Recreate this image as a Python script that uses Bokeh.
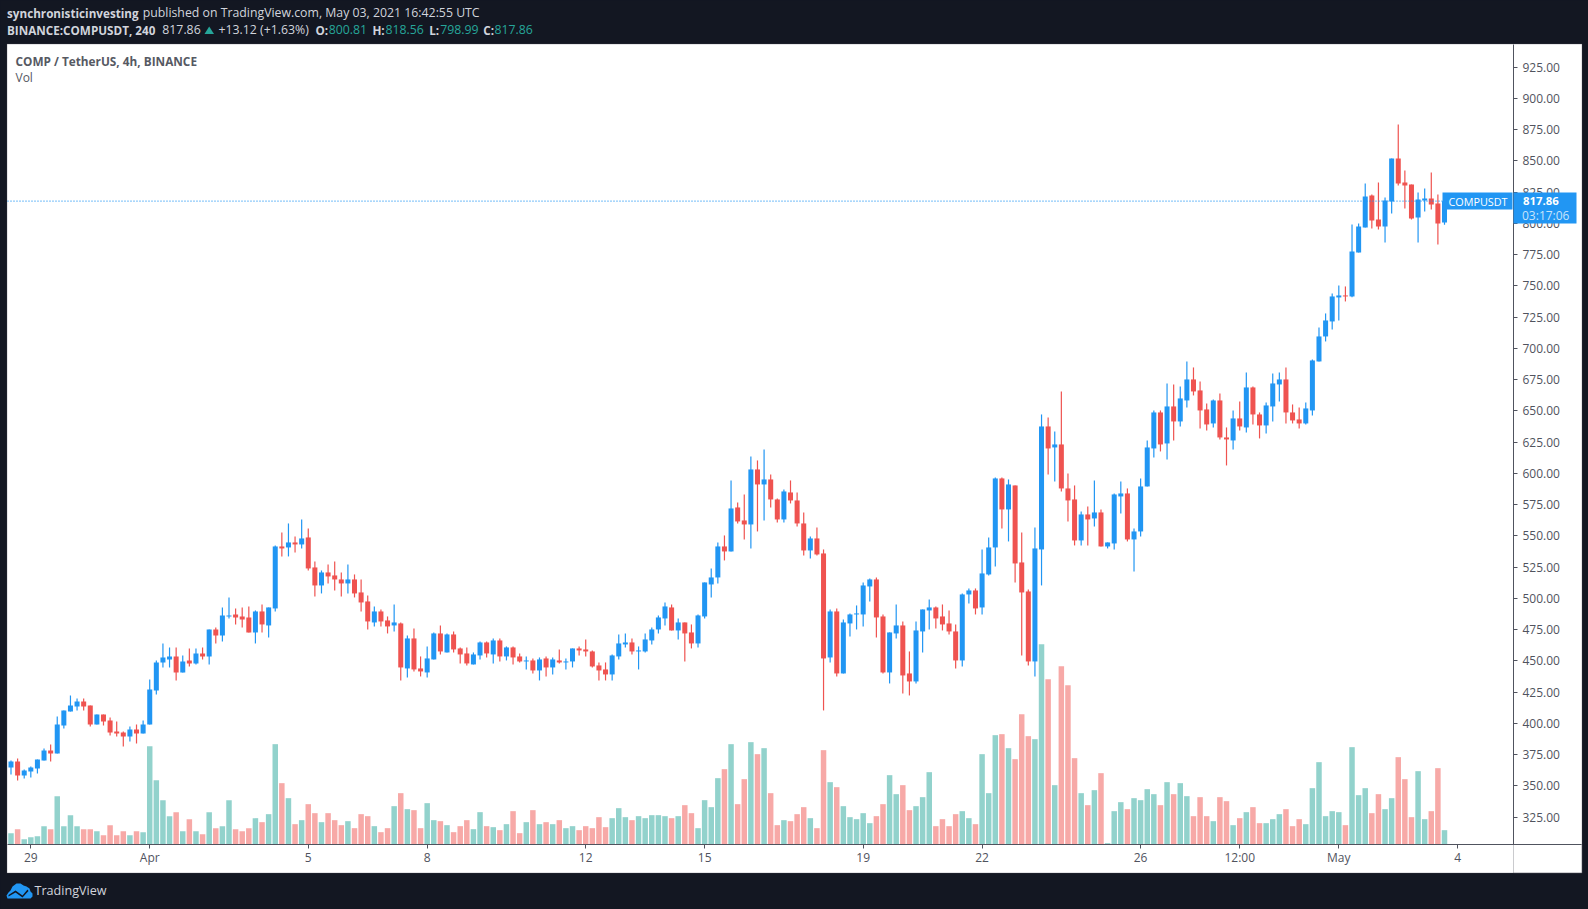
from bokeh.plotting import figure
from bokeh.embed import file_html
from bokeh.resources import INLINE
from bokeh.models import (ColumnDataSource, Range1d, FixedTicker, NumeralTickFormatter,
                          BoxAnnotation, Label, PolyAnnotation)

opens = [364.8,369.6,358.4,361.6,364,370.4,378.4,376,398.4,409.6,
 413.6,417.6,414.4,399.2,407.2,402.4,393.6,392.8,389.6,395.2,
 392,399.2,426.4,448.8,451.2,453.6,440.8,450.4,448,456,
 453.6,475.2,470.4,485.6,487.2,485.6,484.8,472.8,489.6,478.4,
 492,541.6,540.8,544.8,543.2,548.8,524.8,510.4,520.8,518.4,
 515.2,512,515.2,504.8,497.6,480.8,489.6,482.4,478.4,480,
 444,468,444,440.8,451.2,472,456.8,471.2,460,456,
 447.2,454.4,464.8,455.2,466.4,453.6,460.8,453.6,449.6,450.4,
 442.4,452,444.8,450.4,448.8,449.6,460,459.2,457.6,446.4,
 443.2,439.2,453.6,463.2,464.8,457.6,457.6,466.4,475.2,484,
 492.8,474.4,480.8,472.8,464,485.6,511.2,516.8,541.6,537.6,
 572.8,562.4,559.2,603.2,591.2,595.2,579.2,563.2,584.8,578.4,
 560,538.4,548,536,452.8,489.6,440,480,487.2,487.2,
 509.6,515.2,485.6,440.8,472,478.4,440,433.6,473.6,490.4,
 492.8,485.6,480,473.6,450.4,503.2,506.4,492.8,519.2,540.8,
 596,571.2,590.4,528.8,505.6,449.6,539.2,637.6,620.8,623.2,
 588,579.2,546.4,567.2,564,568.8,541.6,544,581.6,584,
 547.2,553.6,589.6,620,648.8,624,653.6,641.6,658.4,675.2,
 666.4,651.2,640,658.4,628.8,626.4,644,636.8,668.8,647.2,
 638.4,653.6,671.2,675.2,648.8,643.2,640,650.4,689.6,709.6,
 721.6,740.8,742.4,741.6,776.8,796.8,822.4,803.2,797.6,817.6,
 852,832.8,831.2,804.8,818.4,820,816,800.81]
highs = [370.4,372,363.2,365.6,371.2,380,383.2,405.6,410.4,422.4,
 420,420,414.4,407.2,407.2,404.8,401.6,393.6,397.6,399.2,
 402.4,435.2,450.4,464,460.8,460.8,454.4,460,460,460.8,
 475.2,476.8,492.8,500.8,492,492.8,493.6,490.4,495.2,492.8,
 542.4,552.8,560,549.6,563.2,556,529.6,522.4,527.2,529.6,
 520.8,527.2,519.2,515.2,502.4,493.6,491.2,485.6,495.2,480.8,
 470.4,476,453.6,461.6,472.8,478.4,472,473.6,460.8,460.8,
 456.8,465.6,465.6,468,468,461.6,461.6,456,453.6,452,
 452.8,453.6,452.8,459.2,452,460,461.6,467.2,458.4,448.8,
 448.8,455.2,471.2,472,468,461.6,472,476.8,486.4,496.8,
 495.2,484,480.8,479.2,487.2,512.8,524,544.8,550.4,594.4,
 576.8,583.2,613.6,610.4,619.2,599.2,580,587.2,594.4,584.8,
 568.8,549.6,556.8,539.2,491.2,492,483.2,488,494.4,512.8,
 516,516.8,487.2,472.8,495.2,481.6,457.6,481.6,491.2,499.2,
 493.6,495.2,490.4,479.2,504,508,508,539.2,548.8,596.8,
 596.8,595.2,590.4,552.8,507.2,556.8,647.2,644.8,633.6,665.6,
 600,590.4,569.6,573.6,594.4,571.2,544.8,584,593.6,588,
 556,596,626.4,650.4,650.4,672,671.2,669.6,689.6,684.8,
 673.6,656,659.2,664,636.8,650.4,657.6,680.8,669.6,648.8,
 656.8,680,680.8,684.8,655.2,652.8,656.8,691.2,716.8,728,
 744,750.4,749.6,799.2,800,832,823.2,832.8,820.8,852,
 879.2,842.4,831.2,824.8,828,840.8,823.2,818.56]
lows = [359.2,354.4,356,356.8,360,370.4,369.6,376,396,409.6,
 410.4,410.4,397.6,399.2,398.4,390.4,389.6,381.6,385.6,384,
 392,399.2,423.2,444.8,444.8,434.4,440.8,445.6,447.2,451.2,
 447.2,464,465.6,484,479.2,476.8,472.8,464,472.8,468.8,
 489.6,533.6,533.6,536.8,540,522.4,501.6,504,512,506.4,
 501.6,504,500.8,489.6,475.2,477.6,477.6,472,473.6,434.4,
 436.8,441.6,437.6,436.8,451.2,455.2,456.8,456.8,448,446.4,
 447.2,451.2,452.8,448,449.6,450.4,447.2,448.8,443.2,440,
 434.4,437.6,439.2,448,443.2,444.8,454.4,453.6,444.8,434.4,
 434.4,434.4,451.2,460.8,455.2,443.2,456.8,463.2,472,478.4,
 474.4,467.2,449.6,460,460.8,484,500.8,512,530.4,537.6,
 560,547.2,540,553.6,562.4,572.8,560.8,560.8,576,557.6,
 534.4,532,534.4,410.4,448.8,437.6,440,469.6,475.2,477.6,
 497.6,468.8,440,432,468,424,422.4,432,456.8,475.2,
 476,474.4,471.2,444,445.6,496,487.2,487.2,518.4,525.6,
 556,545.6,512.8,454.4,446.4,437.6,510.4,599.2,593.6,585.6,
 561.6,542.4,542.4,542.4,557.6,541.6,540,539.2,568,545.6,
 521.6,549.6,589.6,612.8,617.6,611.2,626.4,637.6,652.8,662.4,
 636,634.4,636.8,627.2,606.4,619.2,634.4,632.8,639.2,628,
 632,641.6,657.6,640,640,636,639.2,646.4,689.6,705.6,
 715.2,722.4,737.6,741,776.8,796.8,796,795.2,784.8,808,
 830.4,812,803.2,784.8,809.6,811.2,783.2,798.99]
closes = [369.6,358.4,362.4,364.8,371.2,378.4,376,399.2,410.4,414.4,
 417.6,413.6,399.2,407.2,401.6,392.8,392,389.6,395.2,392,
 399.2,427.2,448.8,452.8,453.6,440.8,449.6,448,456,453.6,
 475.2,470.4,486.4,486.4,484.8,483.2,472.8,489.6,479.2,492.8,
 541.6,540,544.8,543.2,548,524,510.4,520.8,517.6,515.2,
 512,515.2,504,496.8,481.6,489.6,481.6,477.6,480.8,444.8,
 468,443.2,441.6,452,472,457.6,471.2,459.2,455.2,448,
 455.2,464.8,456,466.4,453.6,460.8,452.8,449.6,450.4,442.4,
 451.2,444.8,451.2,448.8,449.6,460,458.4,457.6,445.6,442.4,
 439.2,454.4,464,464.8,457.6,458.4,467.2,475.2,484.8,493.6,
 474.4,480.8,472,464,486.4,512.8,516.8,541.6,537.6,572,
 561.6,559.2,603.2,591.2,595.2,579.2,563.2,585.6,578.4,560,
 538.4,548,535.2,452,489.6,440,480.8,487.2,488,510.4,
 515.2,484.8,440.8,472.8,478.4,438.4,433.6,474.4,491.2,492.8,
 484,479.2,473.6,450.4,503.2,506.4,492,520,540.8,596,
 571.2,591.2,528,504.8,449.6,540,637.6,620,623.2,588,
 578.4,546.4,567.2,563.2,568.8,541.6,544.8,583.2,584,547.2,
 553.6,589.6,620.8,648.8,623.2,653.6,641.6,660,675.2,665.6,
 650.4,639.2,658.4,628.8,627.2,644,637.6,668.8,647.2,638.4,
 654.4,672,675.2,648.8,642.4,640,652,690.4,709.6,722.4,
 741.6,742.4,741.6,777.6,797.6,821.6,802.4,797.6,818.4,852,
 832,830.4,804,819.2,820,815.2,800,817.86]
volumes = [34,46,16,22,25,55,46,145,55,88,
 55,46,46,40,28,58,28,40,28,40,
 37,295,193,133,85,97,40,76,40,31,
 97,49,55,133,46,40,49,79,67,91,
 301,184,139,61,73,121,94,67,94,73,
 58,70,49,91,85,55,37,49,115,154,
 106,103,49,124,73,70,58,37,55,73,
 46,97,55,52,43,61,100,34,67,103,
 61,67,61,73,49,55,43,55,49,82,
 52,79,109,82,73,85,79,88,88,85,
 79,85,118,94,49,133,112,199,226,301,
 121,196,307,271,289,154,58,73,70,91,
 112,79,49,283,187,172,115,82,76,94,
 64,85,121,208,151,178,103,115,142,217,
 55,76,55,91,100,79,61,271,154,328,
 331,289,256,391,325,316,601,496,178,535,
 478,259,154,118,163,214,4,100,127,106,
 139,133,166,151,118,187,151,184,145,85,
 142,85,70,142,130,58,79,97,112,64,
 64,76,91,106,55,76,61,169,247,85,
 100,97,58,292,148,169,94,151,106,139,
 262,196,82,220,76,100,229,43]

price_ticks = [325,350,375,400,425,450,475,500,525,550,575,600,625,650,675,700,725,750,775,800,825,850,875,900,925]
time_ticks = {3:"29",21:"Apr",45:"5",63:"8",87:"12",105:"15",129:"19",147:"22",171:"26",186:"12:00",201:"May",219:"4"}
last_price = 817.86

UP, DOWN = "#2196F3", "#EF5350"
VUP, VDOWN = "#92D2CC", "#F7A9A7"
BG = "#131722"
AX = "#50535E"
TXT = "#D1D4DC"
TEAL = "#26A69A"
FONT = "Open Sans"

def X(px): return (px - 10.5) / 6.606
def Y(py): return 325 + (816.7 - py) / 1.25

n = len(closes)
idx = list(range(n))
is_up = [c >= o for o, c in zip(opens, closes)]
src = ColumnDataSource(dict(
    x=idx, o=opens, h=highs, l=lows, c=closes, v=volumes,
    top=[max(o, c) for o, c in zip(opens, closes)],
    bot=[min(o, c) for o, c in zip(opens, closes)],
    col=[UP if u else DOWN for u in is_up],
    vcol=[VUP if u else VDOWN for u in is_up],
))

p = figure(width=1588, height=909, output_backend="svg", toolbar_location=None,
           x_range=Range1d(X(0), X(1588)), y_range=Range1d(Y(909), Y(0)),
           x_axis_location="below", y_axis_location="right",
           min_border=0, min_border_left=0, min_border_right=0, min_border_top=0, min_border_bottom=0,
           background_fill_color=BG, border_fill_color=BG, outline_line_color=None)
p.grid.visible = False
p.extra_y_ranges = {"vol": Range1d(-(909 - 844) * 3, 844 * 3)}

CV = dict(left_units="canvas", right_units="canvas", top_units="canvas", bottom_units="canvas")

# white chart panel incl. axis strips
p.add_layout(BoxAnnotation(left=6.5, right=1581.5, top=43.5, bottom=872.5, **CV,
                           fill_color="white", fill_alpha=1, line_color=AX, line_width=1, level="underlay"))
p.add_layout(BoxAnnotation(left=1513, right=1581.5, top=844, bottom=872.5, **CV,
                           fill_alpha=0, line_color=AX, line_width=1, level="underlay"))

p.vbar(x="x", top="v", bottom=0, width=0.83, fill_color="vcol", line_color=None, source=src, y_range_name="vol")
p.segment(x0="x", y0="l", x1="x", y1="h", line_color="col", line_width=1.2, source=src)
p.vbar(x="x", top="top", bottom="bot", width=0.76, fill_color="col", line_color=None, source=src)
p.segment(x0=[X(7)], y0=[last_price], x1=[X(1513)], y1=[last_price], line_color=UP, line_width=1.2, line_dash="1 2")

for ax in (p.yaxis[0], p.xaxis[0]):
    ax.axis_line_color = AX
    ax.major_tick_line_color = AX
    ax.major_tick_out = 4
    ax.major_tick_in = 0
    ax.minor_tick_line_color = None
    ax.major_label_text_color = AX
    ax.major_label_text_font = FONT
    ax.major_label_text_font_size = "12px"
p.yaxis[0].ticker = FixedTicker(ticks=price_ticks)
p.yaxis[0].formatter = NumeralTickFormatter(format="0.00")
p.yaxis[0].major_label_standoff = 5
p.yaxis[0].fixed_location = X(1513)
p.yaxis[0].bounds = (Y(844), Y(44))
p.xaxis[0].ticker = FixedTicker(ticks=list(time_ticks))
p.xaxis[0].major_label_overrides = dict(time_ticks)
p.xaxis[0].major_label_standoff = 0
p.xaxis[0].fixed_location = Y(844)
p.xaxis[0].bounds = (X(7), X(1581))

def txt(px, py, s, color=TXT, size="12.3px", style="normal"):
    p.add_layout(Label(x=px, y=py, x_units="canvas", y_units="canvas", text=s, text_color=color,
                       text_font=FONT, text_font_size=size, text_font_style=style, text_baseline="middle"))

def box(l, r, t, b, color):
    p.add_layout(BoxAnnotation(left=l, right=r, top=t, bottom=b, **CV,
                               fill_color=color, fill_alpha=1, line_color=None))

def poly(pts, color):
    p.add_layout(PolyAnnotation(xs=[a for a, _ in pts], ys=[b for _, b in pts],
                                xs_units="canvas", ys_units="canvas",
                                fill_color=color, fill_alpha=1, line_color=None))

BOLD = "11.7px"

# last price badges
box(1442, 1512, 192, 209, UP)
box(1513, 1576, 192, 223, UP)
txt(1448, 200.7, "COMPUSDT", "#FFFFFF", "10.8px")
txt(1522.5, 200.7, "817.86", "#FFFFFF", "11.4px", "bold")
txt(1521.5, 214.7, "03:17:06", "#C8E4FB", "12px")

# header
txt(6.5, 12.2, "synchronisticinvesting", TXT, BOLD, "bold")
txt(142.2, 12.2, "published on TradingView.com, May 03, 2021 16:42:55 UTC")
txt(6.5, 29.3, "BINANCE:COMPUSDT, 240", TXT, BOLD, "bold")
txt(161.8, 29.3, "817.86")
poly([(204, 33.5), (213.5, 33.5), (208.7, 26)], TEAL)
txt(218, 29.3, "+13.12 (+1.63%)")
txt(315, 29.3, "O:", TXT, BOLD, "bold")
txt(328.2, 29.3, "800.81", TEAL)
txt(371.9, 29.3, "H:", TXT, BOLD, "bold")
txt(385, 29.3, "818.56", TEAL)
txt(428.7, 29.3, "L:", TXT, BOLD, "bold")
txt(439.7, 29.3, "798.99", TEAL)
txt(482.8, 29.3, "C:", TXT, BOLD, "bold")
txt(494, 29.3, "817.86", TEAL)

# legend
txt(15, 60, "COMP / TetherUS, 4h, BINANCE", "#565963", "11.8px", "bold")
txt(15, 77, "Vol", "#565963", "12px")

# footer
poly([(7, 898), (6, 895), (8, 892), (10, 890), (12, 886), (16, 883), (20, 883), (23, 885),
      (26, 886), (29, 888), (30, 891), (32, 893), (32, 896), (30, 898)], UP)
poly([(8, 894.5), (15, 890), (22, 895), (27, 889), (28, 890.5), (22, 897), (15, 892), (8, 896)], BG)
txt(34, 890, "TradingView", TXT, "12.6px")

html = file_html(p, INLINE)
html = html.replace("</head>", "<style>html,body{margin:0;padding:0;background:#131722;overflow:hidden}</style></head>")
open("out.html", "w").write(html)
